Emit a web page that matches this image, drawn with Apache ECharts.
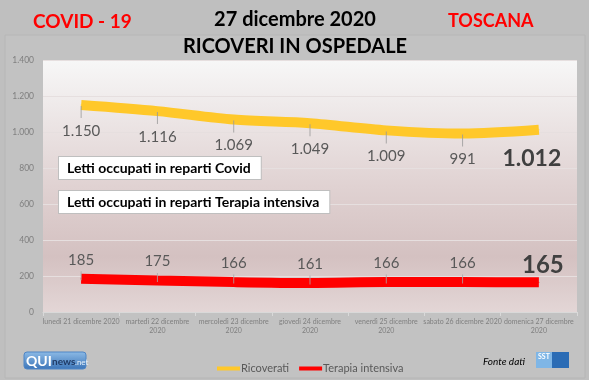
<!DOCTYPE html>
<html>
<head>
<meta charset="utf-8">
<script src="https://cdn.jsdelivr.net/npm/echarts@6/dist/echarts.min.js"></script>
<style>
html,body{margin:0;padding:0;background:#bfbfbf;}
#c{width:589px;height:380px;}
</style>
</head>
<body>
<div id="c"></div>
<script>
const categories = [
  'lunedì 21 dicembre 2020',
  'martedì 22 dicembre 2020',
  'mercoledì 23 dicembre 2020',
  'giovedì 24 dicembre 2020',
  'venerdì 25 dicembre 2020',
  'sabato 26 dicembre 2020',
  'domenica 27 dicembre 2020'
];
const ricoverati = [1150, 1116, 1069, 1049, 1009, 991, 1012];
const terapiaIntensiva = [185, 175, 166, 161, 166, 166, 165];
const seriesNames = ['Ricoverati', 'Terapia intensiva'];

const FONT = 'Lato, "Liberation Sans", sans-serif';
function fmt(v) { return String(v).replace(/\B(?=(\d{3})+(?!\d))/g, '.'); }
function brk(s) {
  if (s.length <= 23) return s;
  const i = s.lastIndexOf(' ');
  return s.slice(0, i) + '\n' + s.slice(i + 1);
}
const last = categories.length - 1;

function buildData(vals, bigFont) {
  return vals.map((v, i) => i === last ? {
    value: v,
    label: { fontSize: bigFont, fontWeight: 'bold', color: '#404040' }
  } : v);
}
function leaderData(vals) {
  return vals.map((v, i) => i === last ? '-' : v);
}

const chart = echarts.init(document.getElementById('c'), null, { renderer: 'canvas' });
chart.setOption({
  backgroundColor: '#bfbfbf',
  animation: false,
  textStyle: { fontFamily: FONT },
  grid: {
    left: 43, right: 12, top: 60, bottom: 68,
    show: true, borderWidth: 0,
    backgroundColor: new echarts.graphic.LinearGradient(0, 0, 0, 1, [
      { offset: 0, color: '#f7f7f7' },
      { offset: 0.5, color: '#e0d2d2' },
      { offset: 0.78, color: '#d4c1c1' },
      { offset: 1, color: '#e3d6d6' }
    ])
  },
  legend: {
    data: seriesNames,
    left: 212, top: 358,
    icon: 'rect', itemWidth: 23, itemHeight: 4, itemGap: 10,
    textStyle: { fontSize: 11, color: '#595959', fontFamily: FONT, padding: [0, 0, 0, -4] }
  },
  xAxis: {
    type: 'category',
    data: categories,
    boundaryGap: true,
    axisLine: { lineStyle: { color: '#d9d9d9', width: 1 } },
    axisTick: { show: true, length: 4, lineStyle: { color: '#d9d9d9' } },
    axisLabel: {
      interval: 0, fontSize: 7, color: '#7f7f7f', lineHeight: 9, margin: 5,
      fontFamily: FONT, formatter: brk
    }
  },
  yAxis: {
    type: 'value', min: 0, max: 1400, interval: 200,
    axisLine: { show: false }, axisTick: { show: false },
    axisLabel: { fontSize: 8.5, color: '#7f7f7f', margin: 9, formatter: fmt, fontFamily: FONT },
    splitLine: { lineStyle: { color: '#e6dfdf', width: 1 } }
  },
  series: [
    {
      name: seriesNames[0], type: 'line', smooth: 0.3,
      data: buildData(ricoverati, 23),
      symbol: 'circle', symbolSize: 1,
      itemStyle: { color: '#ffc82a' },
      lineStyle: { width: 10, color: '#ffc82a' },
      label: {
        show: true, position: 'inside', fontSize: 15, color: '#595959',
        fontFamily: FONT, formatter: p => fmt(p.value)
      },
      labelLayout: p => p.dataIndex === last ? { dx: -7, dy: 29 } : { dy: 26 },
      z: 3
    },
    {
      name: seriesNames[1], type: 'line', smooth: 0.3,
      data: buildData(terapiaIntensiva, 24),
      symbol: 'circle', symbolSize: 1,
      itemStyle: { color: '#ff0000' },
      lineStyle: { width: 10, color: '#ff0000' },
      label: {
        show: true, position: 'inside', fontSize: 15, color: '#595959',
        fontFamily: FONT, formatter: p => fmt(p.value)
      },
      labelLayout: p => p.dataIndex === last ? { dx: 4, dy: -17 } : { dy: -19 },
      z: 3
    },
    {
      name: 'leader-ricoverati', type: 'scatter', data: leaderData(ricoverati),
      symbol: 'rect', symbolSize: [1, 12], symbolOffset: [0, 7],
      itemStyle: { color: '#999999' }, silent: true, z: 5
    },
    {
      name: 'leader-terapia', type: 'scatter', data: leaderData(terapiaIntensiva),
      symbol: 'rect', symbolSize: [1, 9], symbolOffset: [0, -3],
      itemStyle: { color: '#a8a8a8' }, silent: true, z: 5
    }
  ],
  graphic: [
    { type: 'rect', z: -10, silent: true, shape: { x: 5, y: 35, width: 580, height: 343 },
      style: { fill: '#c2c2c2', stroke: '#b6b6b6', lineWidth: 1 } },
    { type: 'text', left: 33, top: 12, style: { text: 'COVID - 19', fill: '#ff0000', font: 'bold 19px ' + FONT } },
    { type: 'text', left: 448, top: 12, style: { text: 'TOSCANA', fill: '#ff0000', font: 'bold 18px ' + FONT } },
    { type: 'text', x: 295, y: 20, style: { text: '27 dicembre 2020', fill: '#000000', font: 'bold 20px ' + FONT, align: 'center', verticalAlign: 'middle' } },
    { type: 'text', x: 295, y: 47, style: { text: 'RICOVERI IN OSPEDALE', fill: '#000000', font: 'bold 20px ' + FONT, align: 'center', verticalAlign: 'middle' } },
    { type: 'text', left: 58, top: 156, z: 10, style: {
      text: 'Letti occupati in reparti Covid', fill: '#000000', font: 'bold 14px ' + FONT,
      backgroundColor: '#ffffff', borderColor: '#bfbfbf', borderWidth: 1, padding: [4, 10, 4, 8] } },
    { type: 'text', left: 58, top: 190, z: 10, style: {
      text: 'Letti occupati in reparti Terapia intensiva', fill: '#000000', font: 'bold 14px ' + FONT,
      backgroundColor: '#ffffff', borderColor: '#bfbfbf', borderWidth: 1, padding: [4, 10, 4, 8] } },
    { type: 'rect', shape: { x: 24, y: 352, width: 62, height: 17, r: 3 },
      style: { fill: new echarts.graphic.LinearGradient(0, 0, 0, 1, [
        { offset: 0, color: '#8dbbe6' }, { offset: 1, color: '#3b74b8' }]), stroke: '#4f86c6' } },
    { type: 'text', x: 26, y: 361, style: { text: 'QUI', fill: '#ffffff', font: 'bold 14px ' + FONT, verticalAlign: 'middle' } },
    { type: 'text', x: 52, y: 362, style: { text: 'news', fill: '#1f3a66', font: 'bold 10px ' + FONT, verticalAlign: 'middle' } },
    { type: 'text', x: 75, y: 362, style: { text: '.net', fill: '#e6f0fa', font: '8px ' + FONT, verticalAlign: 'middle' } },
    { type: 'text', x: 483, y: 362, style: { text: 'Fonte dati', fill: '#000000', font: 'italic 10px ' + FONT, verticalAlign: 'middle' } },
    { type: 'rect', shape: { x: 536, y: 352, width: 33, height: 16 }, style: { fill: '#2b6cb5' } },
    { type: 'rect', shape: { x: 536, y: 352, width: 16, height: 16 }, style: { fill: '#7fb6e6' } },
    { type: 'text', x: 538, y: 357, style: { text: 'SST', fill: '#ffffff', font: 'bold 7px ' + FONT, verticalAlign: 'middle' } }
  ]
});
</script>
</body>
</html>
